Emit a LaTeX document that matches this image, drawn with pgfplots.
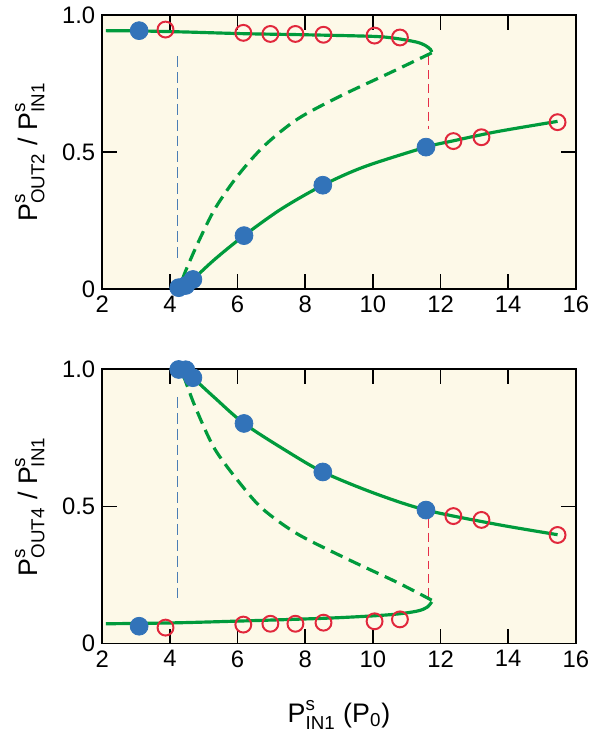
\documentclass[border=0pt]{standalone}
\usepackage{fontspec}
\setmainfont{Liberation Sans}
\usepackage{amsmath}
\usepackage{pgfplots}
\pgfplotsset{compat=1.18}

\definecolor{bgyellow}{HTML}{FDF9E8}
\definecolor{curvegreen}{HTML}{009B3C}
\definecolor{dotblue}{HTML}{3273B9}
\definecolor{ringred}{HTML}{E1283C}
\definecolor{vblue}{HTML}{4A7DB5}
\definecolor{vred}{HTML}{E62E48}

\pgfplotsset{
  panel/.style={
    scale only axis, width=238.5pt, height=138pt,
    xmin=2, xmax=16, ymin=0, ymax=1,
    xtick={2,4,...,16}, ytick={0,0.5,1}, yticklabels={0,0.5,1.0},
    major tick length=0pt,
    axis line style={line width=1pt},
    axis background/.style={fill=bgyellow},
    tick label style={font=\fontsize{12}{14}\selectfont},
    label style={font=\fontsize{13.5}{16}\selectfont},
    /pgf/number format/assume math mode=true,
    ylabel style={at={(axis description cs:-0.153,0.5)}, anchor=center},
    clip mode=individual,
  },
  tickmarks/.style={draw=black, line width=0.8pt, no marks, unbounded coords=jump},
  solid curve/.style={draw=curvegreen, line width=1.6pt, smooth, no marks},
  dashed curve/.style={draw=curvegreen, line width=1.6pt, smooth, no marks, dash pattern=on 6.5pt off 3.5pt},
  filled/.style={only marks, mark=*, mark size=4.5pt, mark options={fill=dotblue, draw=dotblue}},
  ring/.style={only marks, mark=o, mark size=4pt, mark options={draw=ringred, fill=white, line width=1pt}},
}

\begin{document}
\begin{tikzpicture}

% upper panel: OUT2
\begin{axis}[panel, at={(0,178.5pt)}, anchor=south west,
  ylabel={$\text{P}^{\text{s}}_{\text{OUT2}}$ / $\text{P}^{\text{s}}_{\text{IN1}}$}]
\addplot[tickmarks] coordinates {
  (4,0) (4,0.054) (nan,nan) (6,0) (6,0.054) (nan,nan) (8,0) (8,0.054) (nan,nan)
  (10,0) (10,0.054) (nan,nan) (12,0) (12,0.054) (nan,nan) (14,0) (14,0.054) (nan,nan)
  (4,1) (4,0.946) (nan,nan) (6,1) (6,0.946) (nan,nan) (8,1) (8,0.946) (nan,nan)
  (10,1) (10,0.946) (nan,nan) (12,1) (12,0.946) (nan,nan) (14,1) (14,0.946) (nan,nan)
  (2,0.5) (2.44,0.5) (nan,nan) (16,0.5) (15.56,0.5)
};
\addplot[draw=vblue, line width=0.8pt, dash pattern=on 5.5pt off 2.5pt] coordinates {(4.23,0.85) (4.23,0.108)};
\addplot[draw=vred, line width=0.8pt, dash pattern=on 4.5pt off 2.5pt] coordinates {(11.64,0.85) (11.64,0.584)};
\addplot[solid curve] coordinates {
  (2.11,0.943) (3.09,0.942) (4.5,0.938) (6.17,0.932) (8.0,0.928)
  (10.03,0.922) (10.72,0.914) (11.30,0.901) (11.55,0.889) (11.70,0.875) (11.74,0.865)
};
\addplot[dashed curve] coordinates {
  (11.74,0.862) (10.52,0.790) (9.05,0.705) (7.78,0.621) (6.80,0.524)
  (6.02,0.416) (5.34,0.295) (4.85,0.174) (4.46,0.065) (4.30,0.01)
};
\addplot[solid curve] coordinates {
  (4.26,0.005) (4.47,0.013) (4.68,0.035) (5.34,0.110) (6.19,0.195) (7.29,0.292)
  (8.52,0.379) (9.74,0.446) (11.57,0.518) (12.38,0.541) (13.65,0.574) (15.46,0.612)
};
\addplot[filled] coordinates {
  (3.09,0.943) (4.26,0.005) (4.47,0.013) (4.68,0.035) (6.19,0.195) (8.52,0.379) (11.57,0.518)
};
\addplot[ring] coordinates {
  (3.87,0.947) (6.97,0.931) (7.71,0.931) (8.54,0.928) (10.05,0.925) (10.80,0.918)
  (12.38,0.540) (13.21,0.554) (15.46,0.609)
};
\addplot[ring, mark options={draw=ringred, fill=gray!12, line width=1pt}] coordinates {(6.17,0.935)};
\end{axis}

% lower panel: OUT4
\begin{axis}[panel, at={(0,0)}, anchor=south west,
  ylabel={$\text{P}^{\text{s}}_{\text{OUT4}}$ / $\text{P}^{\text{s}}_{\text{IN1}}$},
  xlabel={$\text{P}^{\text{s}}_{\text{IN1}}$ ($\text{P}_{\text{0}}$)},
  xlabel style={at={(axis description cs:0.5,-0.26)}, anchor=center}]
\addplot[tickmarks] coordinates {
  (4,0) (4,0.054) (nan,nan) (6,0) (6,0.054) (nan,nan) (8,0) (8,0.054) (nan,nan)
  (10,0) (10,0.054) (nan,nan) (12,0) (12,0.054) (nan,nan) (14,0) (14,0.054) (nan,nan)
  (4,1) (4,0.946) (nan,nan) (6,1) (6,0.946) (nan,nan) (8,1) (8,0.946) (nan,nan)
  (10,1) (10,0.946) (nan,nan) (12,1) (12,0.946) (nan,nan) (14,1) (14,0.946) (nan,nan)
  (2,0.5) (2.44,0.5) (nan,nan) (16,0.5) (15.56,0.5)
};
\addplot[draw=vblue, line width=0.8pt, dash pattern=on 5.5pt off 2.5pt] coordinates {(4.23,0.90) (4.23,0.151)};
\addplot[draw=vred, line width=0.8pt, dash pattern=on 4.5pt off 2.5pt] coordinates {(11.64,0.455) (11.64,0.169)};
\addplot[solid curve] coordinates {
  (4.26,1.0) (4.47,0.995) (4.68,0.970) (5.34,0.895) (6.19,0.803) (7.39,0.707)
  (8.52,0.626) (10.03,0.549) (11.57,0.487) (13.65,0.435) (15.46,0.397)
};
\addplot[solid curve] coordinates {
  (2.11,0.072) (4.0,0.075) (5.82,0.081) (8.76,0.093) (10.5,0.105)
  (11.30,0.118) (11.60,0.132) (11.74,0.152)
};
\addplot[dashed curve] coordinates {
  (11.74,0.158) (10.72,0.223) (9.25,0.308) (7.78,0.399) (6.80,0.485)
  (6.22,0.562) (5.34,0.707) (4.75,0.863) (4.36,0.990) (4.26,1.0)
};
\addplot[filled] coordinates {
  (4.26,1.0) (4.47,0.999) (4.68,0.970) (6.19,0.803) (8.52,0.626) (11.57,0.487) (3.09,0.063)
};
\addplot[ring] coordinates {
  (3.87,0.058) (6.17,0.069) (6.97,0.072) (7.71,0.072) (8.54,0.076) (10.05,0.081) (10.80,0.088)
  (12.38,0.465) (13.21,0.451) (15.46,0.396)
};
\end{axis}
\path (-51.5pt,-45.5pt) rectangle (245.5pt,322.5pt);
\end{tikzpicture}
\end{document}
